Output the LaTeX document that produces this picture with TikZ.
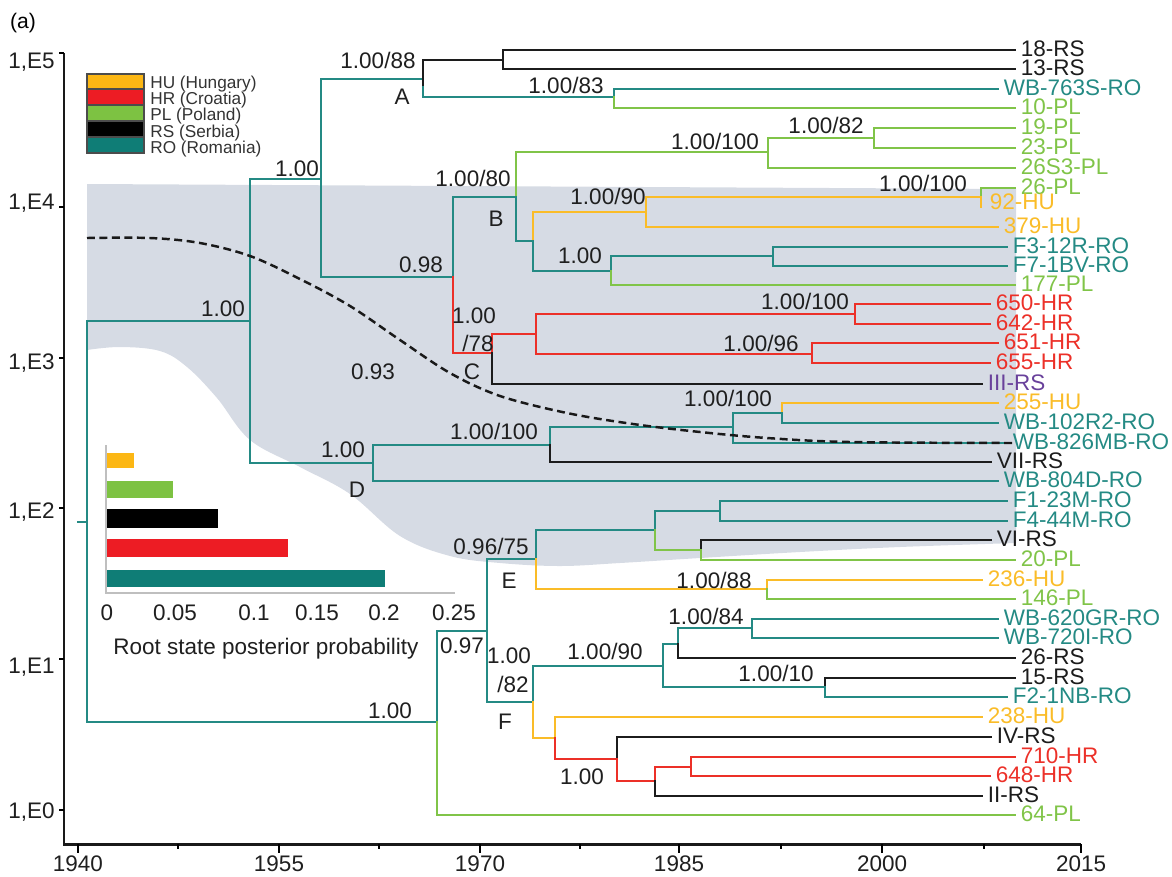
\documentclass[tikz,border=0pt]{standalone}
\usepackage{fontspec}
\setmainfont{Liberation Sans}
\definecolor{cro}{RGB}{36,138,132}
\definecolor{cpl}{RGB}{128,196,72}
\definecolor{chu}{RGB}{250,188,40}
\definecolor{chr}{RGB}{236,48,40}
\definecolor{crs}{RGB}{28,28,28}
\definecolor{cIII}{RGB}{105,65,155}
\definecolor{cshade}{RGB}{214,219,228}
\definecolor{gHU}{RGB}{252,183,20}
\definecolor{gHR}{RGB}{237,28,36}
\definecolor{gPL}{RGB}{125,194,66}
\definecolor{gRS}{RGB}{0,0,0}
\definecolor{gRO}{RGB}{15,125,118}
\newcommand\tipb[5]{\draw[b#1] (#2,#3) -- (#4,#3) node[tiplab,text=c#1] (n#5) {#5};}
\begin{document}
\begin{tikzpicture}[x=0.02cm,y=-0.02cm,
  br/.style={line width=1.5pt,line cap=rect},
  bro/.style={br,draw=cro}, bpl/.style={br,draw=cpl}, bhu/.style={br,draw=chu},
  bhr/.style={br,draw=chr}, brs/.style={br,draw=crs},
  lab/.style={inner sep=0pt,text height=0.72em,text depth=0pt,font=\fontsize{12.8}{14}\selectfont,text=black!88},
  tiplab/.style={lab,anchor=west,xshift=0.09cm},
  leglab/.style={inner sep=0pt,text height=0.72em,text depth=0pt,anchor=west,font=\fontsize{9.8}{11}\selectfont,text=black!80},
  legbox/.style={draw=black!70,line width=0.6pt},
  axisline/.style={line width=1.7pt,draw=black!90},
  baraxis/.style={line width=0.8pt,draw=black!25},
  trend/.style={line width=1.4pt,draw=black!90,dash pattern=on 4.5pt off 2.6pt}]
\path[use as bounding box] (0,0) rectangle (1172,876);

% shaded region
\fill[cshade] (87,184) -- (1016,189) -- (1016,543) -- plot[smooth,tension=0.6] coordinates {(1016,543) (900,547) (800,552) (700,558) (620,563) (560,566) (500,563) (450,556) (400,536) (350,494) (300,467) (250,440) (217,398) (187,367) (160,351) (120,347) (87,350)} -- cycle;

% title
\node[inner sep=0pt,font=\fontsize{12}{14}\selectfont] (title) at (23,23) {(a)};

% axes
\draw[axisline] (64,53) -- (64,844) -- (1081,844);
\foreach \yy/\lb/\ty in {53/1{,}E5/62, 207/1{,}E4/203, 358/1{,}E3/363, 508/1{,}E2/512, 659/1{,}E1/667, 810/1{,}E0/812}{
  \draw[line width=1.2pt] (59,\yy) -- (64,\yy);
  \node[lab,anchor=east] at (55,\ty) {\lb};
}
\foreach \xx/\lb in {78/1940, 279/1955, 480/1970, 679/1985, 882/2000, 1081/2015}{
  \draw[line width=1.2pt] (\xx,844) -- (\xx,853);
  \node[lab] at (\xx,865) {\lb};
}
\foreach \xx in {178,379,580,781,984}{
  \draw[line width=1pt] (\xx,844) -- (\xx,849);
}

% legend
\foreach \yt/\yb/\cc/\lb/\ly in {74/89/gHU/HU (Hungary)/82, 89/105/gHR/HR (Croatia)/98, 105/121/gPL/PL (Poland)/114, 121/137/gRS/RS (Serbia)/131, 137/153/gRO/RO (Romania)/147}{
  \filldraw[legbox,fill=\cc] (87,\yt) rectangle (144,\yb);
  \node[leglab] at (150,\ly) {\lb};
}

% bar chart
\fill[gHU] (106,453) rectangle (134,468);
\fill[gPL] (106,481) rectangle (173,498);
\fill[gRS] (106,509) rectangle (218,528);
\fill[gHR] (106,539) rectangle (288,557);
\fill[gRO] (106,570) rectangle (385,587);
\draw[baraxis] (106,445) -- (106,593) -- (455,593);
\foreach \xx/\lb in {107/0, 175/0.05, 254/0.1, 317/0.15, 384/0.2, 454/0.25}{
  \node[lab] at (\xx,614) {\lb};
}
\node[lab] (rootlab) at (266,648) {Root state posterior probability};

% ---------- tree ----------
% root
\draw[bro] (78,522) -- (87,522);
\draw[bro] (87,321) -- (87,722);
\draw[bro] (87,321) -- (250,321);
\draw[bro] (87,722) -- (437,722);
% node 250
\draw[bro] (250,179) -- (250,463);
\draw[bro] (250,179) -- (321,179);
\draw[bro] (250,463) -- (373,463);
% node 321
\draw[bro] (321,79) -- (321,277);
\draw[bro] (321,79) -- (423,79);
\draw[bro] (321,277) -- (453,277);
% clade A
\draw[brs] (423,60) -- (423,87);
\draw[bro] (423,87) -- (423,97);
\draw[brs] (423,60) -- (503,60);
\draw[bro] (423,97) -- (614,97);
\draw[brs] (503,50) -- (503,69);
\tipb{rs}{503}{50}{1015}{18-RS}
\tipb{rs}{503}{69}{1015}{13-RS}
\draw[bro] (614,89) -- (614,97);
\draw[bpl] (614,97) -- (614,108);
\tipb{ro}{614}{89}{998}{WB-763S-RO}
\tipb{pl}{614}{108}{1015}{10-PL}
% node 0.98
\draw[bro] (453,197) -- (453,277);
\draw[bhr] (453,277) -- (453,353);
\draw[bro] (453,197) -- (516,197);
\draw[bhr] (453,353) -- (492,353);
% clade B
\draw[bpl] (516,152) -- (516,197);
\draw[bro] (516,197) -- (516,241);
\draw[bpl] (516,152) -- (768,152);
\draw[bro] (516,241) -- (533,241);
\draw[bpl] (768,138) -- (768,168);
\draw[bpl] (768,138) -- (874,138);
\tipb{pl}{768}{168}{1015}{26S3-PL}
\draw[bpl] (874,128) -- (874,148);
\tipb{pl}{874}{128}{1015}{19-PL}
\tipb{pl}{874}{148}{1015}{23-PL}
\draw[bhu] (533,212) -- (533,241);
\draw[bro] (533,241) -- (533,271);
\draw[bhu] (533,212) -- (646,212);
\draw[bro] (533,271) -- (611,271);
\draw[bhu] (646,197) -- (646,227);
\draw[bhu] (646,197) -- (981,197);
\tipb{hu}{646}{227}{998}{379-HU}
\draw[bpl] (981,188) -- (981,197);
\draw[bhu] (981,197) -- (981,207);
\tipb{pl}{981}{188}{1015}{26-PL}
\node[tiplab,text=chu] (n92-HU) at (985,203) {92-HU};
\draw[bro] (611,256) -- (611,271);
\draw[bpl] (611,271) -- (611,285);
\draw[bro] (611,256) -- (773,256);
\tipb{pl}{611}{285}{1015}{177-PL}
\draw[bro] (773,247) -- (773,266);
\tipb{ro}{773}{247}{1007}{F3-12R-RO}
\tipb{ro}{773}{266}{1007}{F7-1BV-RO}
% clade C
\draw[bhr] (492,334) -- (492,353);
\draw[brs] (492,353) -- (492,384);
\draw[bhr] (492,334) -- (536,334);
\draw[brs] (492,384) -- (982,384) node[tiplab,text=cIII] (nIII-RS) {III-RS};
\draw[bhr] (536,314) -- (536,354);
\draw[bhr] (536,314) -- (855,314);
\draw[bhr] (536,354) -- (812,354);
\draw[bhr] (855,304) -- (855,324);
\tipb{hr}{855}{304}{990}{650-HR}
\tipb{hr}{855}{324}{990}{642-HR}
\draw[bhr] (812,343) -- (812,363);
\tipb{hr}{812}{343}{998}{651-HR}
\tipb{hr}{812}{363}{990}{655-HR}
% clade D
\draw[bro] (373,445) -- (373,481);
\draw[bro] (373,445) -- (550,445);
\tipb{ro}{373}{481}{998}{WB-804D-RO}
\draw[bro] (550,427) -- (550,445);
\draw[brs] (550,445) -- (550,462);
\draw[bro] (550,427) -- (733,427);
\tipb{rs}{550}{462}{991}{VII-RS}
\draw[bro] (733,413) -- (733,443);
\draw[bro] (733,413) -- (782,413);
\tipb{ro}{733}{443}{1007}{WB-826MB-RO}
\draw[bhu] (782,403) -- (782,413);
\draw[bro] (782,413) -- (782,423);
\tipb{hu}{782}{403}{998}{255-HU}
\tipb{ro}{782}{423}{998}{WB-102R2-RO}
% node 437
\draw[bro] (437,631) -- (437,722);
\draw[bpl] (437,722) -- (437,815);
\draw[bro] (437,631) -- (487,631);
\tipb{pl}{437}{815}{1015}{64-PL}
% node 487
\draw[bro] (487,559) -- (487,702);
\draw[bro] (487,559) -- (536,559);
\draw[bro] (487,702) -- (533,702);
% clade E
\draw[bro] (536,530) -- (536,559);
\draw[bhu] (536,559) -- (536,589);
\draw[bro] (536,530) -- (655,530);
\draw[bhu] (536,589) -- (767,589);
\draw[bro] (655,511) -- (655,530);
\draw[bpl] (655,530) -- (655,550);
\draw[bro] (655,511) -- (720,511);
\draw[bpl] (655,550) -- (701,550);
\draw[bro] (720,501) -- (720,521);
\tipb{ro}{720}{501}{1007}{F1-23M-RO}
\tipb{ro}{720}{521}{1007}{F4-44M-RO}
\draw[brs] (701,540) -- (701,550);
\draw[bpl] (701,550) -- (701,560);
\tipb{rs}{701}{540}{991}{VI-RS}
\tipb{pl}{701}{560}{1015}{20-PL}
\draw[bhu] (767,580) -- (767,589);
\draw[bpl] (767,589) -- (767,599);
\tipb{hu}{767}{580}{982}{236-HU}
\tipb{pl}{767}{599}{1015}{146-PL}
% clade F
\draw[bro] (533,666) -- (533,702);
\draw[bhu] (533,702) -- (533,738);
\draw[bro] (533,666) -- (663,666);
\draw[bhu] (533,738) -- (555,738);
\draw[bro] (663,644) -- (663,687);
\draw[bro] (663,644) -- (678,644);
\draw[bro] (663,687) -- (825,687);
\draw[bro] (678,628) -- (678,644);
\draw[brs] (678,644) -- (678,658);
\draw[bro] (678,628) -- (752,628);
\tipb{rs}{678}{658}{1015}{26-RS}
\draw[bro] (752,619) -- (752,638);
\tipb{ro}{752}{619}{998}{WB-620GR-RO}
\tipb{ro}{752}{638}{998}{WB-720I-RO}
\draw[brs] (825,678) -- (825,687);
\draw[bro] (825,687) -- (825,697);
\tipb{rs}{825}{678}{1015}{15-RS}
\tipb{ro}{825}{697}{1007}{F2-1NB-RO}
\draw[bhu] (555,717) -- (555,738);
\draw[bhr] (555,738) -- (555,759);
\draw[bhr] (555,759) -- (617,759);
\tipb{hu}{555}{717}{982}{238-HU}
\draw[brs] (617,737) -- (617,759);
\draw[bhr] (617,759) -- (617,781);
\draw[bhr] (617,781) -- (655,781);
\tipb{rs}{617}{737}{991}{IV-RS}
\draw[bhr] (655,767) -- (655,781);
\draw[brs] (655,781) -- (655,796);
\draw[bhr] (655,767) -- (691,767);
\tipb{rs}{655}{796}{982}{II-RS}
\draw[bhr] (691,757) -- (691,776);
\tipb{hr}{691}{757}{1015}{710-HR}
\tipb{hr}{691}{776}{990}{648-HR}

% dashed trend
\draw[trend] plot[smooth,tension=0.55] coordinates {(87,238) (150,238) (200,243) (250,256) (300,279) (350,306) (400,340) (450,373) (500,396) (567,413) (633,424) (700,432) (767,438) (850,442) (1013,443)};

% support labels
\node[lab] (s1) at (378,62) {1.00/88};
\node[lab] (sA) at (402,98) {A};
\node[lab] (s2) at (566,87) {1.00/83};
\node[lab] (s3) at (297,170) {1.00};
\node[lab] (s4) at (421,266) {0.98};
\node[lab] (s5) at (473,180) {1.00/80};
\node[lab] (sB) at (496,220) {B};
\node[lab] (s6) at (715,143) {1.00/100};
\node[lab] (s7) at (826,127) {1.00/82};
\node[lab] (s8) at (923,185) {1.00/100};
\node[lab] (s9) at (608,198) {1.00/90};
\node[lab] (s10) at (580,257) {1.00};
\node[lab] (s11) at (474,317) {1.00};
\node[lab] (s12) at (478,345) {/78};
\node[lab] (sC) at (472,373) {C};
\node[lab] (s13) at (805,303) {1.00/100};
\node[lab] (s14) at (761,345) {1.00/96};
\node[lab] (s15) at (223,310) {1.00};
\node[lab] (s16) at (373,373) {0.93};
\node[lab] (s17) at (343,451) {1.00};
\node[lab] (sD) at (357,491) {D};
\node[lab] (s18) at (494,433) {1.00/100};
\node[lab] (s19) at (728,400) {1.00/100};
\node[lab] (s20) at (491,548) {0.96/75};
\node[lab] (sE) at (509,582) {E};
\node[lab] (s21) at (714,582) {1.00/88};
\node[lab] (s22) at (462,647) {0.97};
\node[lab] (s23) at (509,657) {1.00};
\node[lab] (s24) at (513,686) {/82};
\node[lab] (sF) at (505,723) {F};
\node[lab] (s25) at (605,653) {1.00/90};
\node[lab] (s26) at (706,618) {1.00/84};
\node[lab] (s27) at (776,675) {1.00/10};
\node[lab] (s28) at (582,778) {1.00};
\node[lab] (s29) at (390,712) {1.00};
\end{tikzpicture}
\end{document}
